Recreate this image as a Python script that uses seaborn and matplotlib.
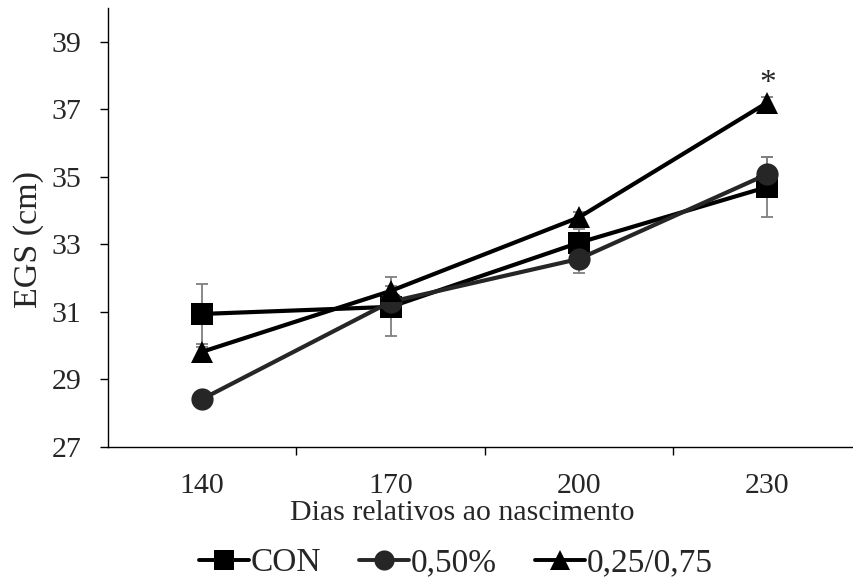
import numpy as np
import pandas as pd
import matplotlib
matplotlib.use("Agg")
import matplotlib.pyplot as plt
import seaborn as sns
from matplotlib.ticker import FixedLocator

# Dias relativos ao nascimento
dias = ["140", "170", "200", "230"]
grupos = ["CON", "0,50%", "0,25/0,75"]

con = [30.94, 31.15, 33.05, 34.70]
p050 = [28.42, 31.30, 32.57, 35.08]
p025_075 = [29.82, 31.62, 33.80, 37.20]

con_err = [0.88, 0.87, 0.42, 0.90]
p050_err = [0.15, 0.15, 0.42, 0.50]
p025_075_err = [0.15, 0.15, 0.15, 0.15]

sns.set_theme(style="ticks")
plt.rcParams["font.family"] = ["Liberation Serif", "DejaVu Serif"]

FS = 21.5
FS_LEG = 24
FS_YLAB = 24.5

valores = {"CON": con, "0,50%": p050, "0,25/0,75": p025_075}
erros = {"CON": con_err, "0,50%": p050_err, "0,25/0,75": p025_075_err}
cores = {"CON": "#000000", "0,50%": "#262626", "0,25/0,75": "#000000"}
marcadores = {"CON": "s", "0,50%": "o", "0,25/0,75": "^"}

df = pd.DataFrame(
    [{"pos": i, "dia": d, "grupo": g, "egs": valores[g][i]}
     for g in grupos for i, d in enumerate(dias)]
)

fig = plt.figure(figsize=(8.54, 5.8), dpi=100)
ax = fig.add_axes([108 / 854, 133 / 580, 746 / 854, 439 / 580])

# error bars behind the markers
for g in grupos:
    sub = df[df.grupo == g]
    ax.errorbar(sub["pos"], sub["egs"], yerr=erros[g], fmt="none",
                ecolor="#7f7f7f", elinewidth=1.3, capsize=4.5, capthick=1.3,
                zorder=1)

sns.lineplot(data=df, x="pos", y="egs", hue="grupo", style="grupo",
             hue_order=grupos, style_order=grupos, palette=cores,
             markers=marcadores, dashes=False, linewidth=3, markersize=16,
             markeredgewidth=0, ax=ax, legend=True, zorder=3)

# significance mark
ax.text(3, p025_075[3] + 0.55, "*", ha="center", va="center", fontsize=24)

ax.set_xlim(-0.5, 3.46)
ax.set_ylim(27, 40)
ax.set_yticks(np.arange(27, 40, 2))
ax.set_xticks(range(len(dias)))
ax.set_xticklabels(dias)
ax.xaxis.set_minor_locator(FixedLocator([0.5, 1.5, 2.5]))
ax.tick_params(axis="x", which="major", length=0, labelsize=FS, pad=19)
ax.tick_params(axis="x", which="minor", length=6, width=1, color="black")
ax.tick_params(axis="y", length=6, width=1, labelsize=FS, color="black", pad=13)
for s in ["top", "right"]:
    ax.spines[s].set_visible(False)
for s in ["left", "bottom"]:
    ax.spines[s].set_color("black")
    ax.spines[s].set_linewidth(1)

ax.set_xlabel("Dias relativos ao nascimento", fontsize=FS)
ax.set_ylabel("EGS (cm)", fontsize=FS_YLAB)
ax.xaxis.set_label_coords((462 - 108) / 746, (447 - 500) / 439)
ax.yaxis.set_label_coords((44 - 108) / 746, (447 - 239) / 439)

handles, labels = ax.get_legend_handles_labels()
for h in handles:
    h.set_markersize(14.5)
    h.set_linewidth(2.8)
ax.legend_.remove()
fig.legend(handles, labels, loc="center", bbox_to_anchor=(456 / 854, 1 - 563 / 580),
           ncol=3, frameon=False, fontsize=FS_LEG, handlelength=1.5,
           handletextpad=0.05, columnspacing=1.15, borderpad=0)

fig.savefig("out.png", dpi=100)
